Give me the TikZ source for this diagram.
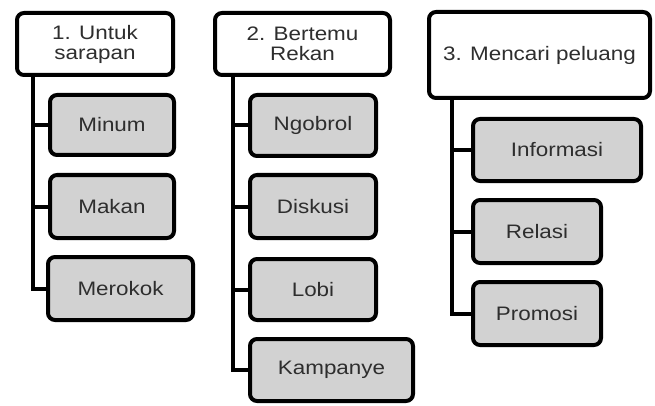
\documentclass[tikz,border=0pt]{standalone}
\usepackage{fontspec}
\setmainfont{Liberation Sans}[FakeStretch=1.15]
\definecolor{boxgray}{HTML}{D2D2D2}
\definecolor{txtgray}{HTML}{2E2E2E}
\tikzset{
  base/.style={draw=black, line width=4pt, rounded corners=7pt, inner sep=0pt,
    align=center, text=txtgray, font=\fontsize{19.5}{20}\selectfont},
  head/.style={base, fill=white},
  item/.style={base, fill=boxgray},
  conn/.style={draw=black, line width=4pt}
}
\begin{document}
\begin{tikzpicture}[x=1pt,y=-1pt]
\useasboundingbox (0,0) rectangle (655,406);
% group 1
\node[head, minimum width=156pt, minimum height=62pt] (h1) at (95,44) {1. Untuk\\sarapan};
\node[item, minimum width=124pt, minimum height=60pt] (c11) at (112,125) {Minum};
\node[item, minimum width=124pt, minimum height=63pt] (c12) at (112,206.5) {Makan};
\node[item, minimum width=145pt, minimum height=63pt] (c13) at (120.5,288.5) {Merokok};
\coordinate (t1) at (33,0);
% group 2
\node[head, minimum width=175pt, minimum height=62pt] (h2) at (302.5,44) {2. Bertemu\\Rekan};
\node[item, minimum width=126pt, minimum height=61pt] (c21) at (313,125.5) {Ngobrol};
\node[item, minimum width=126pt, minimum height=63pt] (c22) at (313,206.5) {Diskusi};
\node[item, minimum width=126pt, minimum height=61pt] (c23) at (313,289.5) {Lobi};
\node[item, minimum width=163pt, minimum height=62pt] (c24) at (331.5,370) {Kampanye};
\coordinate (t2) at (233,0);
% group 3
\node[head, minimum width=221pt, minimum height=86pt] (h3) at (539.5,55) {3. Mencari peluang};
\node[item, minimum width=168pt, minimum height=62pt] (c31) at (557,150) {Informasi};
\node[item, minimum width=128pt, minimum height=63pt] (c32) at (537,231.5) {Relasi};
\node[item, minimum width=128pt, minimum height=63pt] (c33) at (537,313.5) {Promosi};
\coordinate (t3) at (452,0);
% connectors
\draw[conn] (t1 |- h1.south) |- (c13.west);
\draw[conn] (c11.west) -- (c11.west -| t1);
\draw[conn] (c12.west) -- (c12.west -| t1);
\draw[conn] (t2 |- h2.south) |- (c24.west);
\draw[conn] (c21.west) -- (c21.west -| t2);
\draw[conn] (c22.west) -- (c22.west -| t2);
\draw[conn] (c23.west) -- (c23.west -| t2);
\draw[conn] (t3 |- h3.south) |- (c33.west);
\draw[conn] (c31.west) -- (c31.west -| t3);
\draw[conn] (c32.west) -- (c32.west -| t3);
\end{tikzpicture}
\end{document}
